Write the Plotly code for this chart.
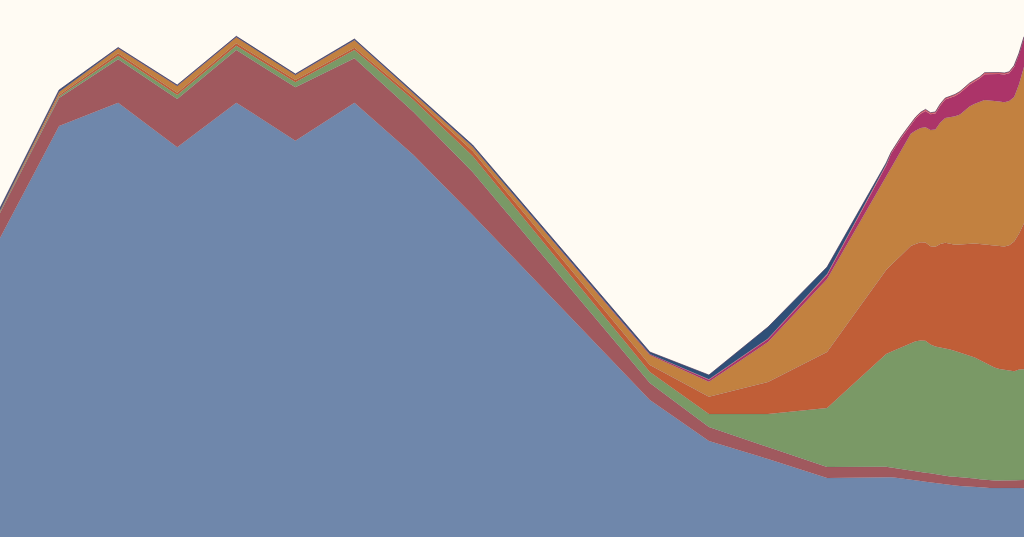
import plotly.graph_objects as go

# eixo x: anos (2005-2020) e depois meses (2020-01 .. 2022-05)
anos = [2005 + i for i in range(16)]
meses = [2020 + m / 12 for m in range(1, 29)]
x = anos + meses

# valores de cada camada (de baixo para cima)
azul = [299, 411, 434.3, 389.7, 434.3, 396.3, 434.3, 382, 322, 260.3, 198.7, 137, 96, 78, 59, 60.3,
        59.8, 59.2, 58.7, 58.1, 57.5, 56.8, 56, 55.3, 54.6, 53.8, 53.2, 52.6, 52, 51.4,
        51.1, 50.9, 50.6, 50.4, 50, 49.6, 49.1, 48.7, 48.9, 49.1, 49.3, 49.1, 48.9, 48.7]
vermelho = [25, 28, 43.4, 48.3, 52.7, 53.4, 44.4, 43, 43, 34.4, 25.6, 17, 14, 12, 11, 10,
            9.7, 9.4, 9.1, 8.8, 8.6, 8.6, 8.9, 9, 9.2, 9.2, 8.5, 8.3, 8.6, 8.8,
            8.8, 8.6, 8.3, 8, 7.8, 7.6, 7.7, 7.8, 7.5, 7.5, 7.5, 7.9, 8.1, 8.3]
verde = [1, 1.5, 3.6, 4, 4.3, 5, 8.3, 12, 16, 14.3, 12.7, 11, 13, 33, 59, 112.7,
         115.8, 118.9, 122, 125.2, 128.2, 130.3, 131.5, 132, 128.7, 127.6, 127.9, 128, 127, 125.9,
         124.7, 123.5, 122.4, 121, 119.2, 117.3, 115.2, 113.1, 111.7, 110.5, 109.3, 108.7, 110.5, 110.7]
laranja_escuro = [0.7, 1.5, 2.4, 2.3, 2.4, 2.3, 2.3, 3, 5, 5.7, 6.3, 7, 17.3, 32, 56, 84,
                  86.6, 89.3, 92, 94.6, 96.6, 97.3, 98.4, 98.3, 98.3, 99.7, 103.4, 105.3, 105.6, 106.1,
                  107.8, 109.9, 112.1, 114.1, 116.1, 118, 120, 121.9, 122.9, 123.4, 125.6, 129.8, 136.1, 146]
laranja = [0.8, 3, 4.8, 6.7, 6, 5, 7.5, 3.5, 4, 6, 8, 10, 15, 40, 73, 93,
           96.9, 100.8, 104.8, 108.3, 112.4, 113.4, 114.2, 115.2, 116.1, 117.2, 121.4, 124.8, 126.4, 128.6,
           130, 133.7, 137.4, 139.8, 142.1, 144.5, 144.6, 144.8, 144.6, 144.2, 144.3, 144.4, 149.3, 156.6]
magenta = [0.3, 0.2, 0.2, 0.2, 0.2, 0.2, 0.2, 0.3, 0.4, 0.5, 0.7, 1, 2, 3, 4, 11.3,
           14.4, 13.9, 11.9, 10.3, 8.8, 12, 14.2, 16.3, 15.9, 16, 17.2, 18.4, 19.6, 20.3,
           21.6, 21.7, 21.8, 22.3, 23.4, 25.8, 26.3, 26.8, 27.3, 27.8, 27.7, 30, 29.5, 28.5]
rosa = [0, 0, 0, 0, 0, 0, 0, 0, 0, 0, 0, 0, 0.4, 0.5, 1, 1.2,
        1.5, 1.5, 1.5, 1.5, 1.5, 1.5, 1.5, 1.5, 1.5, 1.5, 1.5, 1.5, 1.5, 1.5,
        1.5, 1.5, 1.5, 1.5, 1.5, 1.5, 1.5, 1.5, 1.5, 1.5, 1.5, 1.5, 1.5, 1.5]
azul_escuro = [2.2, 1.8, 0.8, 0.8, 0.8, 0.8, 1, 1.2, 1.6, 1.8, 2, 2, 4.3, 11.5, 7, 1.5,
               0, 0, 0, 0, 0, 0, 0, 0, 0, 0, 0, 0, 0, 0,
               0, 0, 0, 0, 0, 0, 0, 0, 0, 0, 0, 0, 0, 0]

camadas = [
    ('azul', azul, '#6f87ab'),
    ('vermelho', vermelho, '#a0595e'),
    ('verde', verde, '#7a9966'),
    ('laranja escuro', laranja_escuro, '#c05e37'),
    ('laranja', laranja, '#c28140'),
    ('magenta', magenta, '#ac3469'),
    ('rosa', rosa, '#e8646e'),
    ('azul escuro', azul_escuro, '#2f5078'),
]

fig = go.Figure()
for nome, valores, cor in camadas:
    # contorno fino; a ultima camada leva o contorno escuro do topo
    if nome == 'azul escuro':
        linha = dict(width=0.8, color='rgba(70,50,90,0.8)')
    else:
        linha = dict(width=0.5, color='rgba(90,70,100,0.3)')
    fig.add_trace(go.Scatter(
        x=x, y=valores, name=nome,
        mode='lines', stackgroup='um',
        line=linha,
        fillcolor=cor,
        hoverinfo='skip',
    ))

fig.update_layout(
    width=1024, height=537,
    margin=dict(l=0, r=0, t=0, b=0),
    paper_bgcolor='#fffbf3',
    plot_bgcolor='#fffbf3',
    showlegend=False,
    xaxis=dict(visible=False, range=[x[0], x[-1]]),
    yaxis=dict(visible=False, range=[0, 537]),
)

# tirar a margem do body para o grafico ocupar a janela toda
fig.write_html(
    "out.html",
    config={'displayModeBar': False},
    post_script="document.body.style.margin='0';document.body.style.background='#fffbf3';",
)
